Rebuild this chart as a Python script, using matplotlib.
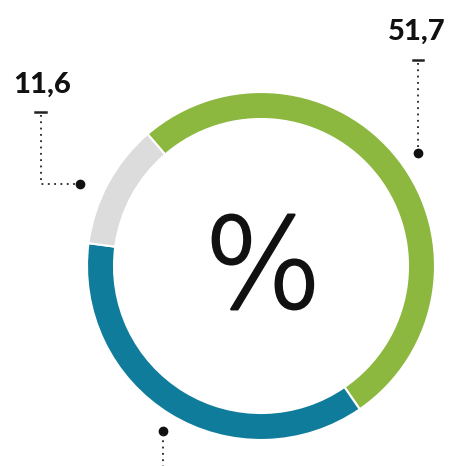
import matplotlib
matplotlib.use("Agg")
import matplotlib.pyplot as plt
import matplotlib.patheffects as pe

labels = ["51,7", "36,7", "11,6"]
values = [51.7, 36.7, 11.6]
colors = ["#8cb83f", "#107c9c", "#dcdcdc"]

W, H = 454, 466
fig = plt.figure(figsize=(W/100, H/100), dpi=100)
ax = fig.add_axes([0, 0, 1, 1])

def Y(py):
    return H - py

cx, cy, r = 261, 266, 174
ax.pie(values, colors=colors, startangle=130.7, counterclock=False,
       center=(cx, Y(cy)), radius=r,
       wedgeprops=dict(width=27, edgecolor="white", linewidth=1.5))
ax.set_xlim(0, W)
ax.set_ylim(0, H)
ax.set_aspect("equal")
ax.axis("off")

ax.text(263, Y(273), "%", ha="center", va="center", fontsize=90,
        family="DejaVu Sans", fontweight="light", color="#111111",
        path_effects=[pe.withStroke(linewidth=1.7, foreground="#111111")])

lab_font = dict(family="Lato", fontweight="black", fontsize=21, color="#111111")
dot = dict(marker="o", color="#111111", markersize=6)
line = dict(color="#222222", linestyle=(0, (1, 2.5)), linewidth=1.3)

# 51,7
ax.text(417, Y(32), labels[0], ha="center", va="center", **lab_font)
ax.plot([413, 423], [Y(60), Y(60)], color="#222222", lw=1.8)
ax.plot([418, 418], [Y(63), Y(150)], **line)
ax.plot([418], [Y(153)], **dot)

# 11,6
ax.text(42, Y(85), labels[2], ha="center", va="center", **lab_font)
ax.plot([35, 46], [Y(112), Y(112)], color="#222222", lw=1.8)
ax.plot([41, 41, 78], [Y(115), Y(184), Y(184)], **line)
ax.plot([80], [Y(184)], **dot)

# 36,7 (label cut off at bottom)
ax.plot([163], [Y(431)], **dot)
ax.plot([163, 163], [Y(434), Y(470)], **line)

fig.savefig("out.png", dpi=100)
